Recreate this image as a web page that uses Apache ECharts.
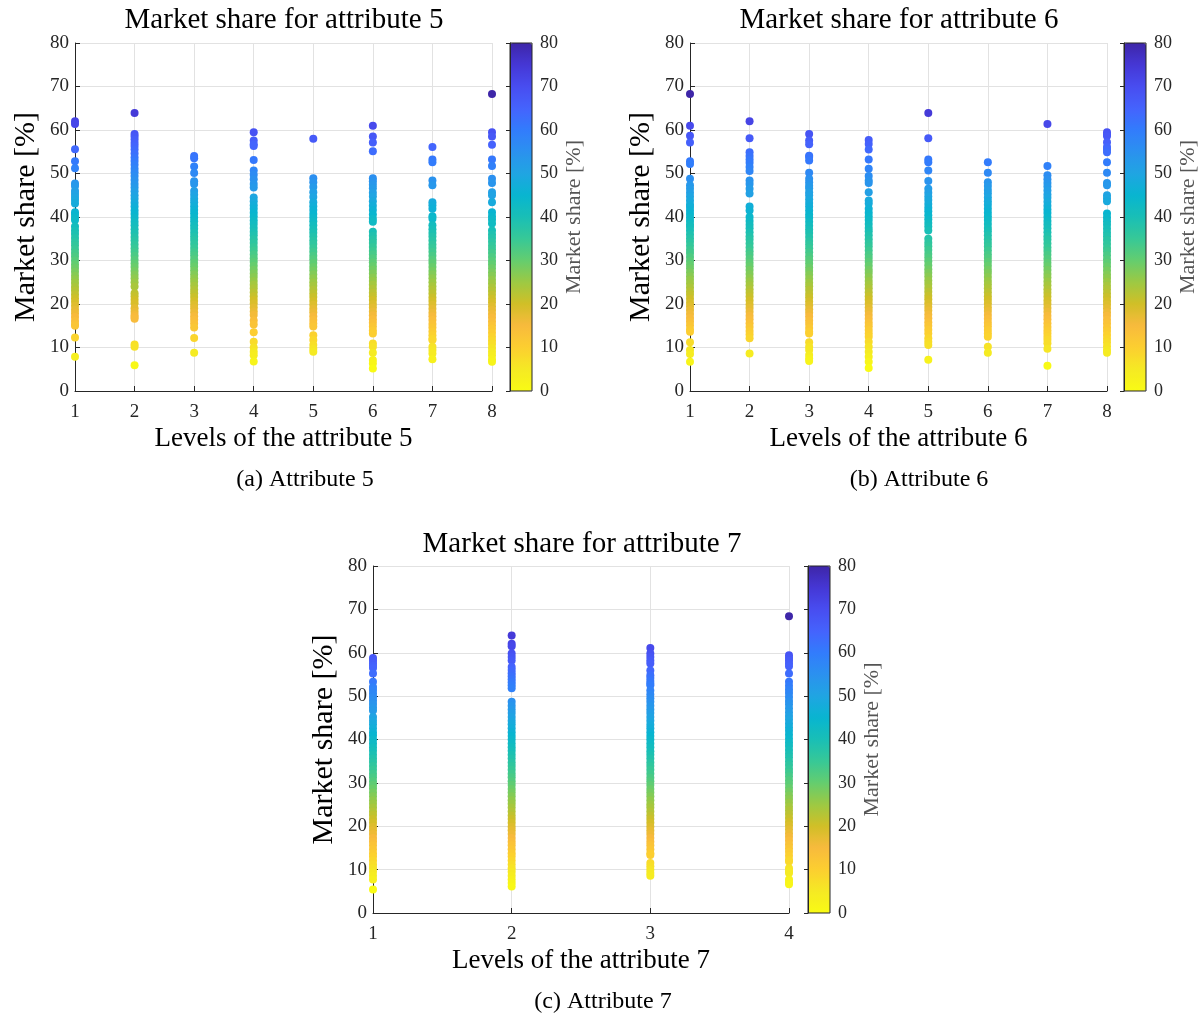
<!DOCTYPE html>
<html>
<head>
<meta charset="utf-8">
<script src="https://cdn.jsdelivr.net/npm/echarts@6/dist/echarts.min.js"></script>
<style>
  html, body { margin: 0; padding: 0; background: #fff; }
  #chart { width: 1203px; height: 1016px; }
</style>
</head>
<body>
<div id="chart"></div>
<script>
// ---------------- DATA ----------------
// Attribute 5 (panel a): market share [%] of each profile, per level
const attr5_level1 = [62.0, 61.4, 55.6, 52.8, 51.2, 47.7, 47.1, 46.0, 45.3, 44.6, 43.9, 43.1, 41.1, 40.5, 39.8, 39.3,
  37.8, 36.9, 36.1, 35.2, 34.3, 33.5, 32.6, 31.7, 30.9, 30.0, 29.1, 28.3, 27.4, 26.5, 25.7, 24.8, 23.9, 23.1, 22.2, 21.3,
  20.5, 19.6, 18.7, 17.9, 17.0, 16.1, 15.3, 15.0, 12.3, 7.9];
const attr5_level2 = [63.9, 59.1, 58.5, 57.8, 57.0, 56.3, 55.5, 54.6, 53.7, 52.9, 52.0, 51.1, 50.3, 49.4, 48.5, 47.6,
  46.8, 45.9, 45.0, 44.2, 43.3, 42.4, 41.5, 40.7, 39.8, 38.9, 38.1, 37.2, 36.3, 35.4, 34.6, 33.7, 32.8, 32.0, 31.1, 30.2,
  29.3, 28.5, 27.6, 26.7, 25.9, 25.0, 24.0, 22.5, 21.8, 21.0, 20.2, 19.0, 18.2, 17.5, 17.0, 16.6, 10.7, 10.2, 5.9];
const attr5_level3 = [54.0, 53.5, 51.6, 50.1, 48.2, 47.6, 46.0, 45.1, 44.2, 43.4, 42.5, 41.6, 40.8, 39.9, 39.0, 38.1,
  37.3, 36.4, 35.5, 34.7, 33.8, 32.9, 32.0, 31.2, 30.3, 29.4, 28.6, 27.7, 26.8, 25.9, 25.1, 24.2, 23.3, 22.5, 21.6, 20.7,
  19.8, 19.0, 18.1, 17.2, 16.4, 15.5, 14.6, 12.2, 8.8];
const attr5_level4 = [59.5, 57.6, 56.7, 56.3, 53.1, 50.7, 49.7, 48.7, 47.6, 46.8, 44.5, 43.6, 42.7, 41.9, 41.0, 40.1,
  39.2, 38.4, 37.5, 36.6, 35.8, 34.9, 34.0, 33.1, 32.3, 31.4, 30.5, 29.7, 28.8, 27.9, 27.0, 26.2, 25.3, 24.4, 23.6, 22.7,
  21.8, 20.9, 20.1, 19.2, 18.3, 17.5, 16.2, 15.3, 13.5, 11.3, 10.0, 9.0, 8.2, 6.8];
const attr5_level5 = [58.0, 48.9, 48.0, 46.9, 45.7, 44.6, 43.4, 42.5, 41.6, 40.7, 39.9, 39.0, 38.1, 37.2, 36.4, 35.5,
  34.6, 33.8, 32.9, 32.0, 31.1, 30.3, 29.4, 28.5, 27.7, 26.8, 25.9, 25.0, 24.2, 23.3, 22.4, 21.6, 20.7, 19.8, 18.9, 18.1,
  17.2, 16.3, 15.5, 14.8, 12.8, 11.7, 10.6, 9.7, 9.0];
const attr5_level6 = [61.0, 58.5, 57.1, 55.1, 48.9, 48.2, 47.4, 46.6, 45.6, 44.7, 43.6, 42.6, 41.6, 40.6, 39.6, 38.9,
  36.6, 35.7, 34.8, 34.0, 33.1, 32.2, 31.4, 30.5, 29.6, 28.7, 27.9, 27.0, 26.1, 25.3, 24.4, 23.5, 22.6, 21.8, 20.9, 20.0,
  19.2, 18.3, 17.4, 16.5, 15.7, 14.8, 13.9, 13.2, 10.9, 10.2, 8.8, 7.1, 6.3, 5.2];
const attr5_level7 = [56.1, 53.2, 52.6, 48.4, 47.3, 43.4, 42.7, 41.9, 40.2, 39.6, 38.1, 37.2, 36.3, 35.5, 34.6, 33.7,
  32.9, 32.0, 31.1, 30.2, 29.4, 28.5, 27.6, 26.8, 25.9, 25.0, 24.1, 23.3, 22.4, 21.5, 20.7, 19.8, 18.9, 18.0, 17.2, 16.3,
  15.4, 14.6, 13.7, 12.8, 12.0, 11.7, 10.2, 9.4, 8.6, 7.3];
const attr5_level8 = [68.3, 59.5, 58.5, 56.6, 53.2, 51.7, 48.8, 47.8, 45.7, 45.0, 43.4, 41.1, 40.2, 39.4, 38.5, 36.9,
  36.0, 35.2, 34.3, 33.4, 32.6, 31.7, 30.8, 29.9, 29.1, 28.2, 27.3, 26.5, 25.6, 24.7, 23.8, 23.0, 22.1, 21.2, 20.4, 19.5,
  18.6, 17.7, 16.9, 16.0, 15.1, 14.3, 13.4, 12.5, 11.6, 10.8, 9.9, 9.0, 8.2, 7.3, 6.7];

// Attribute 6 (panel b)
const attr6_level1 = [68.3, 61.0, 58.7, 57.1, 52.8, 52.2, 48.8, 47.3, 46.5, 45.6, 44.7, 43.8, 42.9, 42.3, 41.5, 40.7,
  39.9, 39.1, 38.3, 37.7, 36.9, 36.0, 35.1, 34.3, 33.4, 32.5, 31.7, 30.8, 29.9, 29.0, 28.2, 27.3, 26.4, 25.6, 24.7, 23.8,
  22.9, 22.1, 21.2, 20.3, 19.5, 18.6, 17.7, 16.8, 16.0, 15.1, 14.2, 13.6, 11.2, 9.4, 8.5, 6.7];
const attr6_level2 = [62.0, 58.1, 54.9, 54.0, 53.2, 52.5, 51.5, 50.6, 48.4, 47.6, 46.5, 45.4, 42.4, 41.5, 40.0, 39.1,
  38.2, 37.4, 36.5, 35.6, 34.8, 33.9, 33.0, 32.1, 31.3, 30.4, 29.5, 28.7, 27.8, 26.9, 26.0, 25.2, 24.3, 23.4, 22.6, 21.7,
  20.8, 19.9, 19.1, 18.2, 17.3, 16.5, 15.6, 14.7, 13.8, 13.0, 12.1, 8.6];
const attr6_level3 = [59.1, 57.6, 56.7, 54.1, 53.8, 53.0, 50.2, 48.8, 48.0, 47.2, 46.6, 45.7, 45.0, 44.1, 43.2, 42.4,
  41.5, 40.6, 39.8, 38.9, 38.0, 37.1, 36.3, 35.4, 34.5, 33.7, 32.8, 31.9, 31.0, 30.2, 29.3, 28.4, 27.6, 26.7, 25.8, 24.9,
  24.1, 23.2, 22.3, 21.5, 20.6, 19.7, 18.8, 18.0, 17.1, 16.2, 15.4, 14.5, 13.6, 13.2, 11.2, 10.2, 9.4, 8.3, 7.5, 6.9];
const attr6_level4 = [57.7, 56.8, 55.5, 53.2, 51.1, 49.4, 48.4, 47.8, 45.7, 43.8, 43.1, 41.9, 41.0, 40.1, 39.3, 38.4,
  37.5, 36.7, 35.8, 34.9, 34.0, 33.2, 32.3, 31.4, 30.6, 29.7, 28.8, 27.9, 27.1, 26.2, 25.3, 24.5, 23.6, 22.7, 21.8, 21.0,
  20.1, 19.2, 18.4, 17.5, 16.6, 15.7, 14.9, 14.0, 13.2, 12.5, 11.3, 10.2, 9.0, 7.9, 6.7, 5.3];
const attr6_level5 = [63.9, 58.1, 53.2, 52.6, 50.7, 48.3, 46.5, 45.6, 44.7, 43.9, 43.0, 42.1, 41.3, 40.4, 39.5, 38.6,
  37.8, 36.9, 35.0, 34.1, 33.3, 32.4, 31.5, 30.7, 29.8, 28.9, 28.0, 27.2, 26.3, 25.4, 24.6, 23.7, 22.8, 21.9, 21.1, 20.2,
  19.3, 18.5, 17.6, 16.7, 15.8, 15.0, 14.1, 13.2, 12.1, 11.3, 10.6, 7.2];
const attr6_level6 = [52.6, 50.2, 48.0, 47.1, 46.2, 45.4, 44.5, 43.6, 42.8, 41.9, 41.0, 40.1, 39.3, 38.4, 37.5, 36.7,
  35.8, 34.9, 34.0, 33.2, 32.3, 31.4, 30.6, 29.7, 28.8, 27.9, 27.1, 26.2, 25.3, 24.5, 23.6, 22.7, 21.8, 21.0, 20.1, 19.2,
  18.4, 17.5, 16.6, 15.7, 14.9, 14.0, 13.2, 12.5, 10.2, 8.8];
const attr6_level7 = [61.4, 51.7, 49.6, 48.7, 47.8, 47.0, 46.1, 45.2, 44.4, 43.5, 42.6, 41.7, 40.9, 40.0, 39.1, 38.3,
  37.4, 36.5, 35.6, 34.8, 33.9, 33.0, 32.2, 31.3, 30.4, 29.5, 28.7, 27.8, 26.9, 26.1, 25.2, 24.3, 23.4, 22.6, 21.7, 20.8,
  20.0, 19.1, 18.2, 17.3, 16.5, 15.6, 14.7, 13.9, 13.2, 12.5, 11.8, 11.0, 9.7, 5.8];
const attr6_level8 = [59.5, 59.0, 58.6, 57.2, 56.1, 55.5, 54.9, 52.6, 50.2, 47.8, 47.3, 45.0, 44.3, 43.6, 40.8, 39.9,
  39.0, 38.2, 37.3, 36.4, 35.6, 34.7, 33.8, 32.9, 32.1, 31.2, 30.3, 29.5, 28.6, 27.7, 26.8, 26.0, 25.1, 24.2, 23.4, 22.5,
  21.6, 20.7, 19.9, 19.0, 18.1, 17.3, 16.4, 15.5, 14.6, 13.8, 12.9, 12.0, 11.2, 10.3, 9.4, 8.8];

// Attribute 7 (panel c)
const attr7_level1 = [58.8, 58.2, 57.6, 57.0, 56.5, 55.2, 53.3, 52.1, 51.4, 50.6, 49.8, 49.0, 48.2, 47.4, 46.7, 45.2,
  44.3, 43.5, 42.6, 41.7, 40.9, 40.0, 39.1, 38.2, 37.4, 36.5, 35.6, 34.8, 33.9, 33.0, 32.1, 31.3, 30.4, 29.5, 28.7, 27.8,
  26.9, 26.0, 25.2, 24.3, 23.4, 22.6, 21.7, 20.8, 19.9, 19.1, 18.2, 17.3, 16.5, 15.6, 14.7, 13.8, 13.0, 12.1, 11.2, 10.4,
  9.5, 8.6, 7.7, 5.4];
const attr7_level2 = [64.0, 62.1, 61.5, 59.8, 59.0, 58.2, 56.7, 56.0, 55.3, 54.6, 53.9, 53.2, 52.5, 51.8, 48.7, 47.8,
  46.9, 46.1, 45.2, 44.3, 43.5, 42.6, 41.7, 40.8, 40.0, 39.1, 38.2, 37.4, 36.5, 35.6, 34.7, 33.9, 33.0, 32.1, 31.3, 30.4,
  29.5, 28.6, 27.8, 26.9, 26.0, 25.2, 24.3, 23.4, 22.5, 21.7, 20.8, 19.9, 19.1, 18.2, 17.3, 16.4, 15.6, 14.7, 13.8, 13.0,
  12.1, 11.2, 10.3, 9.5, 8.6, 7.7, 6.9, 6.1];
const attr7_level3 = [61.1, 59.8, 59.0, 58.2, 57.5, 55.9, 54.8, 54.2, 53.5, 52.9, 52.5, 51.3, 50.4, 49.5, 48.7, 47.8,
  46.9, 46.1, 45.2, 44.3, 43.4, 42.6, 41.7, 40.8, 40.0, 39.1, 38.2, 37.3, 36.5, 35.6, 34.7, 33.9, 33.0, 32.1, 31.2, 30.4,
  29.5, 28.6, 27.8, 26.9, 26.0, 25.1, 24.3, 23.4, 22.5, 21.7, 20.8, 19.9, 19.0, 18.2, 17.3, 16.4, 15.6, 14.7, 13.8, 13.4,
  11.5, 10.8, 10.0, 9.2, 8.6];
const attr7_level4 = [68.4, 59.4, 58.8, 58.2, 57.5, 56.9, 55.2, 53.3, 52.4, 51.5, 50.7, 49.8, 48.9, 48.1, 47.2, 46.3,
  45.4, 44.6, 43.7, 42.8, 42.0, 41.1, 40.2, 39.3, 38.5, 37.6, 36.7, 35.9, 35.0, 34.1, 33.2, 32.4, 31.5, 30.6, 29.8, 28.9,
  28.0, 27.1, 26.3, 25.4, 24.5, 23.7, 22.8, 21.9, 21.0, 20.2, 19.3, 18.4, 17.6, 16.7, 15.8, 14.9, 14.1, 13.2, 12.3, 11.9,
  10.3, 9.7, 9.2, 7.7, 7.1, 6.6];

const panelTitles = ['Market share for attribute 5', 'Market share for attribute 6', 'Market share for attribute 7'];
const panelXNames = ['Levels of the attribute 5', 'Levels of the attribute 6', 'Levels of the attribute 7'];
const panelCaptions = ['(a) Attribute 5', '(b) Attribute 6', '(c) Attribute 7'];
const panelLevels = [
  [attr5_level1, attr5_level2, attr5_level3, attr5_level4, attr5_level5, attr5_level6, attr5_level7, attr5_level8],
  [attr6_level1, attr6_level2, attr6_level3, attr6_level4, attr6_level5, attr6_level6, attr6_level7, attr6_level8],
  [attr7_level1, attr7_level2, attr7_level3, attr7_level4]
];
const yMin = 0, yMax = 80, yStep = 10;

// parula colormap (reversed: low value = yellow, high value = dark blue)
const parulaLowToHigh = ['#f9fb14', '#f5e924', '#fccf30', '#f8ba3d', '#d1bf27', '#9dc943', '#64cd6f', '#37c897',
  '#19bfb6', '#08b5d0', '#20a5e2', '#2b91ef', '#327cfc', '#4563fd', '#484df0', '#4537d5', '#3e26a8'];

// ---------------- LAYOUT ----------------
const FONT = 'Liberation Serif';
const INK = '#262626';
const layout = [
  { plot: { left: 75, top: 43, width: 417, height: 348 }, bar: { left: 510, top: 43, width: 22, height: 348 },
    titleX: 284, titleY: 6, capX: 305, capY: 468 },
  { plot: { left: 690, top: 43, width: 417, height: 348 }, bar: { left: 1124, top: 43, width: 22, height: 348 },
    titleX: 899, titleY: 6, capX: 919, capY: 468 },
  { plot: { left: 373, top: 566, width: 416, height: 347 }, bar: { left: 808, top: 566, width: 22, height: 347 },
    titleX: 582, titleY: 530, capX: 603, capY: 990 }
];

const grids = [], xAxes = [], yAxes = [], series = [], visualMaps = [], titles = [];

layout.forEach((L, i) => {
  const levels = panelLevels[i];
  grids.push(Object.assign({ containLabel: false }, L.plot));
  xAxes.push({
    gridIndex: grids.length - 1, type: 'value', min: 1, max: levels.length, interval: 1,
    name: panelXNames[i], nameLocation: 'middle', nameGap: 34,
    nameTextStyle: { fontFamily: FONT, fontSize: 27, color: '#000' },
    axisLine: { show: true, lineStyle: { color: INK, width: 1 } },
    axisTick: { show: true, inside: true, length: 5, lineStyle: { color: INK } },
    axisLabel: { fontFamily: FONT, fontSize: 19, color: INK, margin: 12 },
    splitLine: { show: true, lineStyle: { color: '#e2e2e2', width: 1 } }
  });
  yAxes.push({
    gridIndex: grids.length - 1, type: 'value', min: yMin, max: yMax, interval: yStep,
    name: 'Market share [%]', nameLocation: 'middle', nameRotate: 90, nameGap: 34,
    nameTextStyle: { fontFamily: FONT, fontSize: 30, color: '#000' },
    axisLine: { show: true, lineStyle: { color: INK, width: 1 } },
    axisTick: { show: true, inside: true, length: 5, lineStyle: { color: INK } },
    axisLabel: { fontFamily: FONT, fontSize: 19, color: INK, margin: 6 },
    splitLine: { show: true, lineStyle: { color: '#e2e2e2', width: 1 } }
  });
  const data = [];
  const all = [];
  levels.forEach((vals, k) => vals.forEach(v => { data.push([k + 1, v]); all.push(v); }));
  series.push({
    type: 'scatter', xAxisIndex: xAxes.length - 1, yAxisIndex: yAxes.length - 1,
    data: data, symbol: 'circle', symbolSize: 8, silent: true,
    itemStyle: { opacity: 1 }
  });
  // point colouring: colormap stretched over the data range (auto colour limits)
  visualMaps.push({
    type: 'continuous', show: false, seriesIndex: i, dimension: 1,
    min: Math.min.apply(null, all), max: Math.max.apply(null, all),
    inRange: { color: parulaLowToHigh }
  });
  // colorbar display (0..80)
  visualMaps.push({
    type: 'continuous', seriesIndex: [], min: yMin, max: yMax,
    calculable: false, realtime: false, hoverLink: false,
    left: L.bar.left, top: L.bar.top, itemWidth: L.bar.width, itemHeight: L.bar.height,
    padding: 0, orient: 'vertical', text: null,
    inRange: { color: parulaLowToHigh }
  });
  titles.push({
    text: panelTitles[i], left: L.titleX, top: L.titleY, textAlign: 'center', padding: 0,
    textStyle: { fontFamily: FONT, fontSize: 29, fontWeight: 'normal', color: '#000' }
  });
  titles.push({
    text: panelCaptions[i], left: L.capX, top: L.capY, textAlign: 'center', padding: 0,
    textStyle: { fontFamily: FONT, fontSize: 24, fontWeight: 'normal', color: '#000' }
  });
});

// colorbar frames + tick axes
layout.forEach((L, i) => {
  grids.push(Object.assign({ show: true, borderColor: INK, borderWidth: 1, backgroundColor: 'transparent', z: 10 }, L.bar));
  xAxes.push({ gridIndex: grids.length - 1, type: 'value', min: 0, max: 1, show: false });
  yAxes.push({
    gridIndex: grids.length - 1, type: 'value', position: 'right', min: yMin, max: yMax, interval: yStep, z: 10,
    name: 'Market share [%]', nameLocation: 'middle', nameRotate: 90, nameGap: 31,
    nameTextStyle: { fontFamily: FONT, fontSize: 22, color: '#555' },
    axisLine: { show: true, lineStyle: { color: INK, width: 1 } },
    axisTick: { show: true, inside: true, length: 4, lineStyle: { color: INK } },
    axisLabel: { fontFamily: FONT, fontSize: 18, color: INK, margin: 8 },
    splitLine: { show: false }
  });
});

const chart = echarts.init(document.getElementById('chart'), null, { renderer: 'canvas' });
chart.setOption({
  animation: false,
  backgroundColor: '#fff',
  title: titles,
  grid: grids,
  xAxis: xAxes,
  yAxis: yAxes,
  visualMap: visualMaps,
  series: series
});
</script>
</body>
</html>
